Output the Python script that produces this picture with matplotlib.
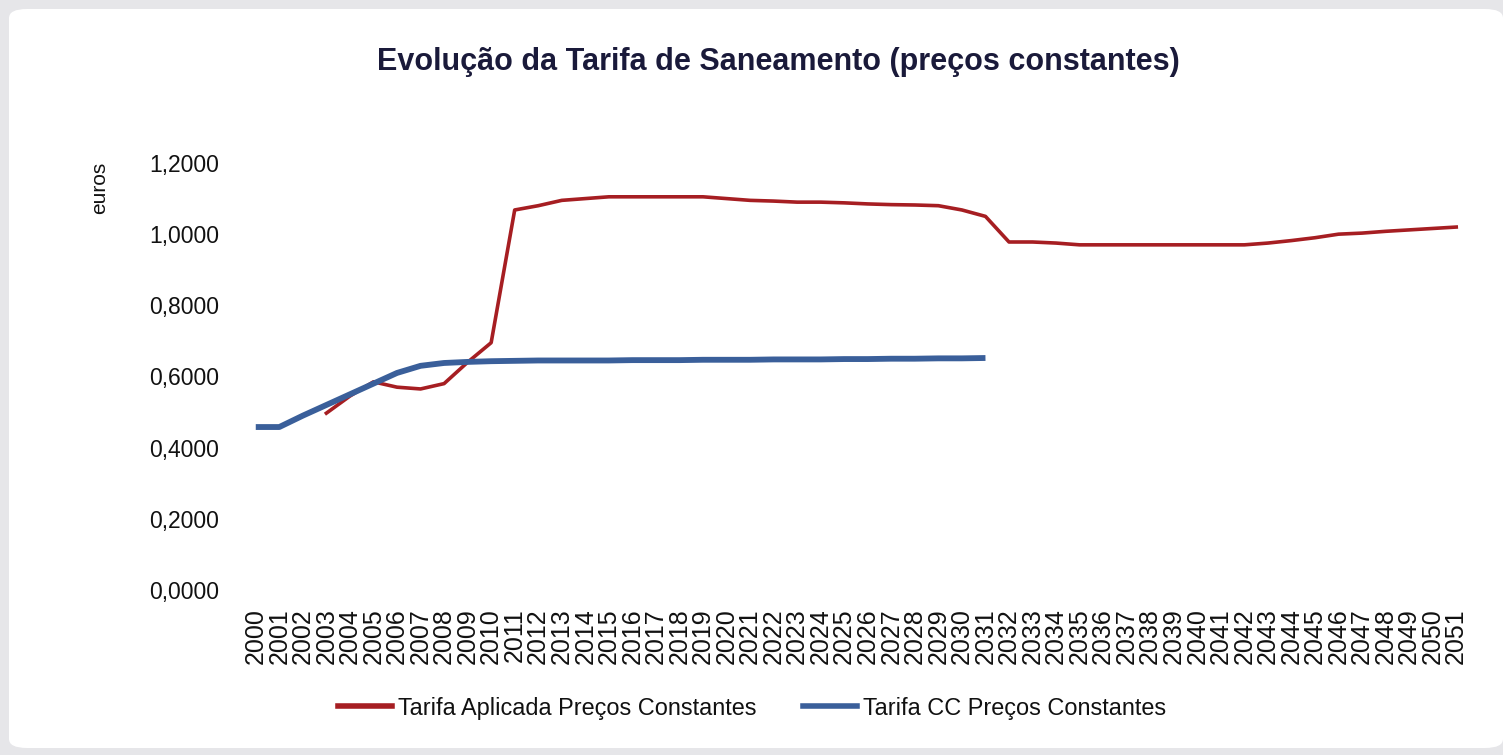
import matplotlib
matplotlib.use("Agg")
import matplotlib.pyplot as plt
from matplotlib.patches import FancyBboxPatch
from matplotlib.lines import Line2D

years = [str(y) for y in range(2000, 2052)]

# Tarifa Aplicada (starts 2003)
red_years = list(range(2003, 2052))
red_values = [0.497, 0.545, 0.585, 0.570, 0.565, 0.580, 0.640, 0.695,
              1.068, 1.080, 1.095, 1.100, 1.105, 1.105, 1.105, 1.105, 1.105,
              1.100, 1.095, 1.093, 1.090, 1.090, 1.088, 1.085, 1.083, 1.082,
              1.080, 1.068, 1.050, 0.978, 0.978, 0.975, 0.970, 0.970, 0.970,
              0.970, 0.970, 0.970, 0.970, 0.970, 0.975, 0.982, 0.990, 1.000,
              1.003, 1.008, 1.012, 1.016, 1.020]

# Tarifa CC (2000-2031)
blue_years = list(range(2000, 2032))
blue_values = [0.458, 0.458, 0.490, 0.520, 0.550, 0.580, 0.610, 0.630,
               0.638, 0.641, 0.643, 0.644, 0.645, 0.645, 0.645, 0.645,
               0.646, 0.646, 0.646, 0.647, 0.647, 0.647, 0.648, 0.648,
               0.648, 0.649, 0.649, 0.650, 0.650, 0.651, 0.651, 0.652]

yticks = [0.0, 0.2, 0.4, 0.6, 0.8, 1.0, 1.2]
ytick_labels = ["0,0000", "0,2000", "0,4000", "0,6000", "0,8000", "1,0000", "1,2000"]

title = "Evolução da Tarifa de Saneamento (preços constantes)"
red_label = "Tarifa Aplicada Preços Constantes"
blue_label = "Tarifa CC Preços Constantes"

plt.rcParams['font.family'] = ['Liberation Sans', 'DejaVu Sans']

W, H = 1503, 755
fig = plt.figure(figsize=(W / 100, H / 100), dpi=100)
fig.patch.set_facecolor("#e6e6e9")
card = FancyBboxPatch((9 / W, 7 / H), (W - 9) / W, (H - 16) / H,
                      boxstyle="round,pad=0,rounding_size=0.012",
                      transform=fig.transFigure, facecolor="white",
                      edgecolor="none", zorder=-10)
fig.patches.append(card)

ax = fig.add_axes([244 / W, (H - 590) / H, (1468 - 244) / W, (590 - 163) / H])
ax.set_zorder(2)
ax.set_facecolor("none")

idx = {y: i for i, y in enumerate(range(2000, 2052))}
ax.plot([idx[y] for y in blue_years], blue_values, color="#3a5f9a", lw=4.2,
        solid_capstyle="butt", zorder=3, label=blue_label)
ax.plot([idx[y] for y in red_years], red_values, color="#a61e22", lw=2.6,
        solid_joinstyle="round", zorder=2, label=red_label)

ax.set_xlim(-0.5, len(years) - 0.5)
ax.set_ylim(0, 1.2)
ax.set_xticks(range(len(years)))
ax.set_xticklabels(years, rotation=90, fontsize=18, color="#111111")
ax.set_yticks(yticks)
ax.set_yticklabels(ytick_labels, fontsize=16.5, color="#111111")
ax.tick_params(axis="both", length=0)
ax.tick_params(axis="x", pad=13)
ax.tick_params(axis="y", pad=18)
for s in ax.spines.values():
    s.set_visible(False)

fig.text(100 / W, (H - 188) / H, "euros", rotation=90, fontsize=15,
         ha="center", va="center", color="#111111", zorder=3)
fig.text(778 / W, (H - 62) / H, title, fontsize=22, fontweight="bold",
         ha="center", va="center", color="#1a1a3a", zorder=3)

handles = [Line2D([], [], color="#a61e22", lw=4),
           Line2D([], [], color="#3a5f9a", lw=4)]
leg = fig.legend(handles, [red_label, blue_label], loc="center",
                 bbox_to_anchor=(752 / W, (H - 708) / H), ncol=2,
                 frameon=False, fontsize=16.9, handlelength=2.3,
                 handletextpad=0.25, columnspacing=2.0)
leg.set_zorder(3)
for t in leg.get_texts():
    t.set_color("#111111")

fig.savefig("out.png", dpi=100, facecolor=fig.get_facecolor())
